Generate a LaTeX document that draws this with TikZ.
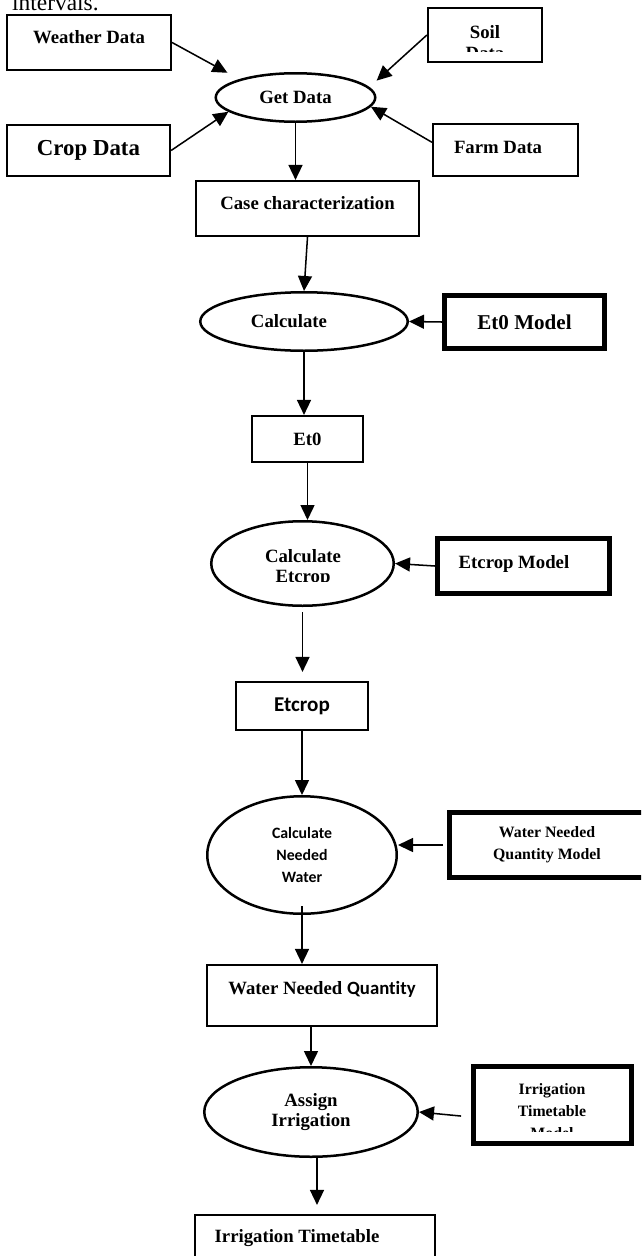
\documentclass[tikz,border=0pt]{standalone}
\usepackage{fontspec}
\setmainfont{Liberation Serif}
\newfontfamily\carl[Ligatures=NoCommon]{Carlito}
\usetikzlibrary{arrows.meta,shapes.geometric}

\begin{document}
\begin{tikzpicture}[x=0.03cm,y=-0.03cm,
  wh/.style 2 args={minimum width=#1*0.03cm,minimum height=#2*0.03cm},
  box/.style={draw,line width=0.065cm,inner sep=0pt,font=\bfseries\fontsize{16}{19}\selectfont},
  bigbox/.style={box,line width=0.15cm},
  oval/.style={draw,ellipse,line width=0.075cm,inner sep=0pt,align=center,font=\bfseries\fontsize{16}{17}\selectfont},
  lift/.style={text depth=#1},
  arr/.style={-{Triangle[length=4.5mm,width=4.2mm]},line width=1.3pt}]
\useasboundingbox (0,0) rectangle (641,1256);
\clip (0,0) rectangle (641,1256);
\node[anchor=base west,font=\fontsize{20}{24}\selectfont] (intro) at (8,10) {intervals.};
% inputs
\node[box,wh={164}{55},lift=0.33cm] (weather) at (89,42.5) {Weather Data};
\node[box,wh={114}{54}] (soil) at (485,35) {};
\begin{scope}
\clip (427,7) rectangle (543,51.7);
\node[align=center,font=\bfseries\fontsize{16}{17.9}\selectfont] (soiltext) at (485,42.5) {Soil\\Data};
\end{scope}
\node[oval,wh={159.5}{48.5}] (getdata) at (295.5,97.5) {Get Data};
\node[box,wh={163}{51},font=\bfseries\fontsize{19.5}{23}\selectfont] (crop) at (88.5,150.5) {Crop Data};
\node[box,wh={145}{52},lift=0.18cm] (farm) at (505.5,150) {Farm Data\hspace*{0.45cm}};
\node[box,wh={223}{55},lift=0.33cm] (case) at (307.5,208.5) {Case characterization};
% et0
\node[oval,wh={207.5}{58.5}] (calc) at (304,321.5) {Calculate\hspace*{0.9cm}};
\node[bigbox,wh={160}{53},font=\bfseries\fontsize{18}{21}\selectfont] (et0model) at (524.5,322) {Et0 Model};
\node[box,wh={111}{46}] (et0) at (307.5,439) {Et0};
% etcrop
\node[oval,wh={182.5}{84.5}] (calcet) at (302.5,563.5) {};
\begin{scope}
\clip (210,520) rectangle (395,581.7);
\node[align=center,font=\bfseries\fontsize{16}{17}\selectfont] (calcettext) at (303,568) {Calculate\\Etcrop};
\end{scope}
\node[bigbox,wh={172}{55},lift=0.24cm] (etmodel) at (523.5,566) {Etcrop Model\hspace*{0.57cm}};
\node[box,wh={132}{48},font=\carl\bfseries\fontsize{18}{21}\selectfont] (etcrop) at (302,706) {Etcrop};
% water
\node[oval,wh={189.5}{117.5},font=\carl\bfseries\fontsize{13.5}{19.1}\selectfont] (calcwater) at (302,855) {Calculate\\Needed\\Water};
\node[bigbox,wh={195}{65},align=center,font=\bfseries\fontsize{13.5}{18.8}\selectfont] (wnqm) at (547,845) {Water Needed\\Quantity Model};
\node[box,wh={230}{61},lift=0.45cm] (wnq) at (322,995.5) {Water Needed {\carl Quantity}};
% irrigation
\node[oval,wh={213.5}{89.5}] (assign) at (311,1112) {Assign\\Irrigation};
\node[bigbox,wh={158}{77}] (itm) at (552.5,1105) {};
\begin{scope}
\clip (471,1064) rectangle (634,1131.7);
\node[align=center,font=\bfseries\fontsize{13.5}{18.7}\selectfont] (itmtext) at (552,1111) {Irrigation\\Timetable\\Model};
\end{scope}
\node[box,wh={240}{64},lift=0.66cm] (it) at (315,1247) {Irrigation Timetable\hspace*{1.08cm}};
\coordinate (assignout) at ([xshift=0.18cm]assign.south);
% arrows
\draw[arr,shorten >=0.4cm] (weather.east) -- (getdata.162);
\draw[arr,shorten >=0.29cm] (soil.west) -- (getdata.8);
\draw[arr] (crop.east) -- (getdata.192);
\draw[arr] (farm.174) -- (getdata.353);
\draw[arr] (getdata.south) -- (getdata.south |- case.north);
\draw[arr] (case.south) -- (calc.north);
\draw[arr] (et0model.west) -- (calc.east);
\draw[arr] (calc.south) -- (calc.south |- et0.north);
\draw[arr] (et0.south) -- (et0.south |- calcet.north);
\draw[arr] (etmodel.west) -- (calcet.east);
\draw[arr,shorten <=0.15cm,shorten >=0.27cm] (calcet.south) -- (calcet.south |- etcrop.north);
\draw[arr] (etcrop.south) -- (etcrop.south |- calcwater.north);
\draw[arr,shorten <=0.12cm] (wnqm.west) -- (wnqm.west -| calcwater.east);
\draw[arr,shorten <=-0.27cm] (calcwater.south) -- (calcwater.south |- wnq.north);
\draw[arr] (assign.north |- wnq.south) -- (assign.north);
\draw[arr,shorten <=0.3cm] ([yshift=-0.36cm]itm.west) -- (assign.east);
\draw[arr,shorten >=0.27cm] (assignout) -- (assignout |- it.north);
\end{tikzpicture}
\end{document}
